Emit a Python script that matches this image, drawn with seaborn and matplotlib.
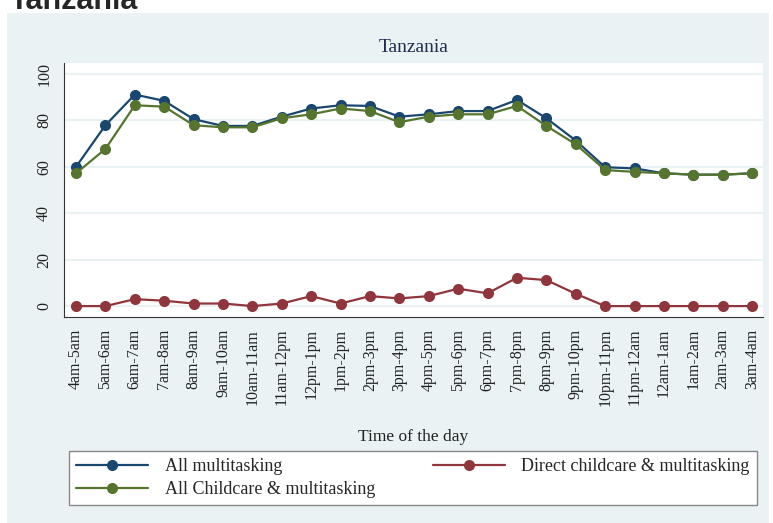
import matplotlib
matplotlib.use("Agg")
import matplotlib.pyplot as plt
import seaborn as sns
import pandas as pd
import numpy as np
from matplotlib.patches import Rectangle

slots = ['4am-5am', '5am-6am', '6am-7am', '7am-8am', '8am-9am', '9am-10am',
         '10am-11am', '11am-12pm', '12pm-1pm', '1pm-2pm', '2pm-3pm', '3pm-4pm',
         '4pm-5pm', '5pm-6pm', '6pm-7pm', '7pm-8pm', '8pm-9pm', '9pm-10pm',
         '10pm-11pm', '11pm-12am', '12am-1am', '1am-2am', '2am-3am', '3am-4am']

all_multi = [60.0, 77.9, 91.1, 88.4, 80.5, 77.6, 77.6, 81.6, 85.1, 86.5, 86.2, 81.6,
             82.6, 84.0, 84.0, 88.8, 80.9, 71.3, 59.8, 59.3, 57.2, 56.6, 56.6, 57.2]
all_child = [57.2, 67.7, 86.5, 85.9, 77.9, 77.0, 77.0, 80.9, 82.6, 85.1, 84.0, 79.2,
             81.6, 82.6, 82.6, 86.2, 77.6, 69.7, 58.6, 57.8, 57.2, 56.6, 56.6, 57.2]
direct_child = [0, 0, 3.0, 2.3, 1.1, 1.1, 0, 1.1, 4.3, 1.1, 4.3, 3.3,
                4.3, 7.5, 5.5, 12.2, 11.2, 5.3, 0, 0, 0, 0, 0, 0]

series_names = ['All multitasking', 'All Childcare & multitasking',
                'Direct childcare & multitasking']
colors = ['#1a476f', '#55752f', '#90353b']

df = pd.DataFrame({
    'slot': slots * 3,
    'value': all_multi + all_child + direct_child,
    'series': np.repeat(series_names, len(slots)),
})

sns.set_style("white")
plt.rcParams['font.family'] = ['Liberation Serif', 'DejaVu Serif']

fig = plt.figure(figsize=(7.73, 5.23), dpi=100)
fig.patch.set_facecolor('white')
fig.patches.append(Rectangle((7/773, 0), 762/773, 1 - 13/523,
                             transform=fig.transFigure, facecolor='#eaf2f3',
                             edgecolor='none', zorder=-10))

ax = fig.add_axes([64/773, 1 - 317/523, 699/773, 254/523])
sns.lineplot(data=df, x='slot', y='value', hue='series', hue_order=series_names,
             palette=colors, marker='o', markersize=8, markeredgewidth=0,
             linewidth=1.6, sort=False, ax=ax, legend=False)

ax.set_ylim(-4.7, 104.7)
ax.set_xlim(-0.41, 23.37)
ax.set_yticks([0, 20, 40, 60, 80, 100])
ax.grid(axis='y', color='#eaf2f3', linewidth=1.5)
ax.set_axisbelow(True)
for s in ['top', 'right']:
    ax.spines[s].set_visible(False)
for s in ['left', 'bottom']:
    ax.spines[s].set_color('#333333')
    ax.spines[s].set_linewidth(0.8)
ax.tick_params(axis='both', direction='out', length=5, width=0.8,
               color='#333333', labelsize=11.5, labelcolor='#222222')
ax.tick_params(axis='x', labelrotation=90)
plt.setp(ax.get_yticklabels(), rotation=90, va='center')
ax.set_xlabel('Time of the day', fontsize=12.5, color='#222222', labelpad=16)
ax.set_ylabel('')
ax.set_title('Tanzania', fontsize=14, color='#1e2d4f', pad=8)

handles = [plt.Line2D([], [], color=c, marker='o', markersize=8,
                      markeredgewidth=0, linewidth=1.6) for c in colors]
leg = fig.legend(handles, series_names, loc='center', ncol=2, mode='expand',
                 bbox_to_anchor=(69/773, 1 - 507/523, 688/773, 58/523),
                 frameon=True, fancybox=False, edgecolor='#888888',
                 framealpha=1, fontsize=13, handlelength=4.0, borderaxespad=0,
                 labelspacing=0.35, handletextpad=0.9, borderpad=0.4)
leg.get_frame().set_linewidth(1.0)
leg.get_frame().set_facecolor('white')

fig.text(10/773, 1 - 9/523, 'Tanzania', family=['Liberation Sans', 'DejaVu Sans'],
         fontsize=22, fontweight='bold', va='baseline', ha='left')

fig.savefig('out.png', dpi=100)
